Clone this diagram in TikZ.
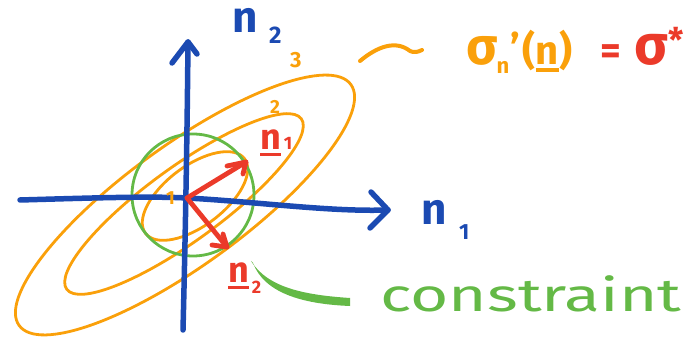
\documentclass[tikz,border=0pt]{standalone}
\usepackage{fontspec}
\setmainfont{Fira Sans}
\usetikzlibrary{arrows.meta}
\definecolor{penblue}{RGB}{27,74,178}
\definecolor{penorange}{RGB}{250,160,10}
\definecolor{penred}{RGB}{235,58,42}
\definecolor{pengreen}{RGB}{100,185,70}
\newcommand\hul[1]{\setbox0\hbox{#1}\rlap{\rule[-0.17em]{\wd0}{0.09em}}\box0}
\newcommand\fs[1]{\fontsize{#1}{#1}\selectfont}
\begin{document}
\begin{tikzpicture}[x=1pt,y=-1pt,line cap=round,line join=round,
  axis/.style={penblue,line width=5.5pt},
  ell/.style={penorange,line width=2.8pt},
  vec/.style={penred,line width=4.8pt},
  circ/.style={pengreen,line width=2.8pt},
  lbl/.style={inner sep=0pt,anchor=base west}]
\useasboundingbox (0,0) rectangle (699,339);
% coordinates
\coordinate (o) at (187,198);
\coordinate (xl) at (20,200);
\coordinate (xr) at (388,210);
\coordinate (xa1) at (371,192);
\coordinate (xa2) at (370,228);
\coordinate (yb) at (183,330);
\coordinate (yt) at (188,42);
\coordinate (ya1) at (172,63);
\coordinate (ya2) at (197,54);
% ellipses
\draw[ell,shift={(195,196)},rotate=37] (0,0) ellipse [x radius=62,y radius=30];
\draw[ell,shift={(184,204)},rotate=36] (0,0) ellipse [x radius=145,y radius=37];
\draw[ell,shift={(185,205)},rotate=36] (0,0) ellipse [x radius=205,y radius=60];
% circle
\draw[circ] (193,195) circle [radius=61];
% axes
\draw[axis] (xl) .. controls (90,198) and (150,196) .. (o) .. controls (260,202) and (330,212) .. (xr);
\draw[axis] (xa1) -- (xr) -- (xa2);
\draw[axis] (yb) .. controls (185,250) and (187,150) .. (yt);
\draw[axis] (ya1) -- (yt) -- (ya2);
% red vectors
\coordinate (n1tip) at (246,162);
\coordinate (n2tip) at (227,247);
\draw[vec] (o) -- (n1tip);
\draw[vec] (227,166) -- (n1tip) -- (243,174);
\draw[vec] (o) -- (n2tip);
\draw[vec] (212,245) -- (n2tip) -- (223,234);
% blue labels
\node[lbl,penblue,font=\fs{44}\bfseries] (n2n) at (232,33) {n};
\node[lbl,penblue,font=\fs{24}\bfseries] (n2s) at (269,44) {2};
\node[lbl,penblue,font=\fs{44}\bfseries] (n1n) at (421,225) {n};
\node[lbl,penblue,font=\fs{22}\bfseries] (n1s) at (459,240) {1};
% red labels
\node[lbl,penred,font=\fs{36}\bfseries] (u1) at (260,150) {\hul{n}\fs{18}\,1};
\node[lbl,penred,font=\fs{36}\bfseries] (u2) at (228,283) {\hul{n}\raisebox{-10pt}{\fs{18}\,2}};
% orange numbers
\node[lbl,penorange,font=\fs{22}\bfseries] (l3) at (290,68) {3};
\node[lbl,penorange,font=\fs{19}\bfseries] (l2) at (270,114) {2};
\node[lbl,penorange,font=\fs{19}\bfseries] (l1) at (166,205) {1};
% tilde
\draw[penorange,line width=4pt] (360,61) .. controls (378,46) and (396,40) .. (410,51) .. controls (414,53) and (418,52) .. (422,50);
% formula
\node[lbl,font=\fs{40}\bfseries] (formula) at (466,65)
  {\textcolor{penorange}{{\fs{52}σ}\kern-1pt\raisebox{-9pt}{\fs{22}n}\kern1pt\raisebox{2pt}{'}\kern3pt(\hul{n})}\hspace{28pt}\textcolor{penred}{=\hspace{14pt}{\fs{56}σ}\raisebox{12pt}{\fs{34}*}}};
% constraint
\fill[pengreen] (251,261) .. controls (268,288) and (305,295) .. (350,298) -- (350,306) .. controls (300,304) and (264,292) .. (253,263) -- cycle;
\node[lbl,pengreen,font=\fs{46}] (constraint) at (380,311) {\scalebox{1.43}[1]{constraint}};
\end{tikzpicture}
\end{document}
